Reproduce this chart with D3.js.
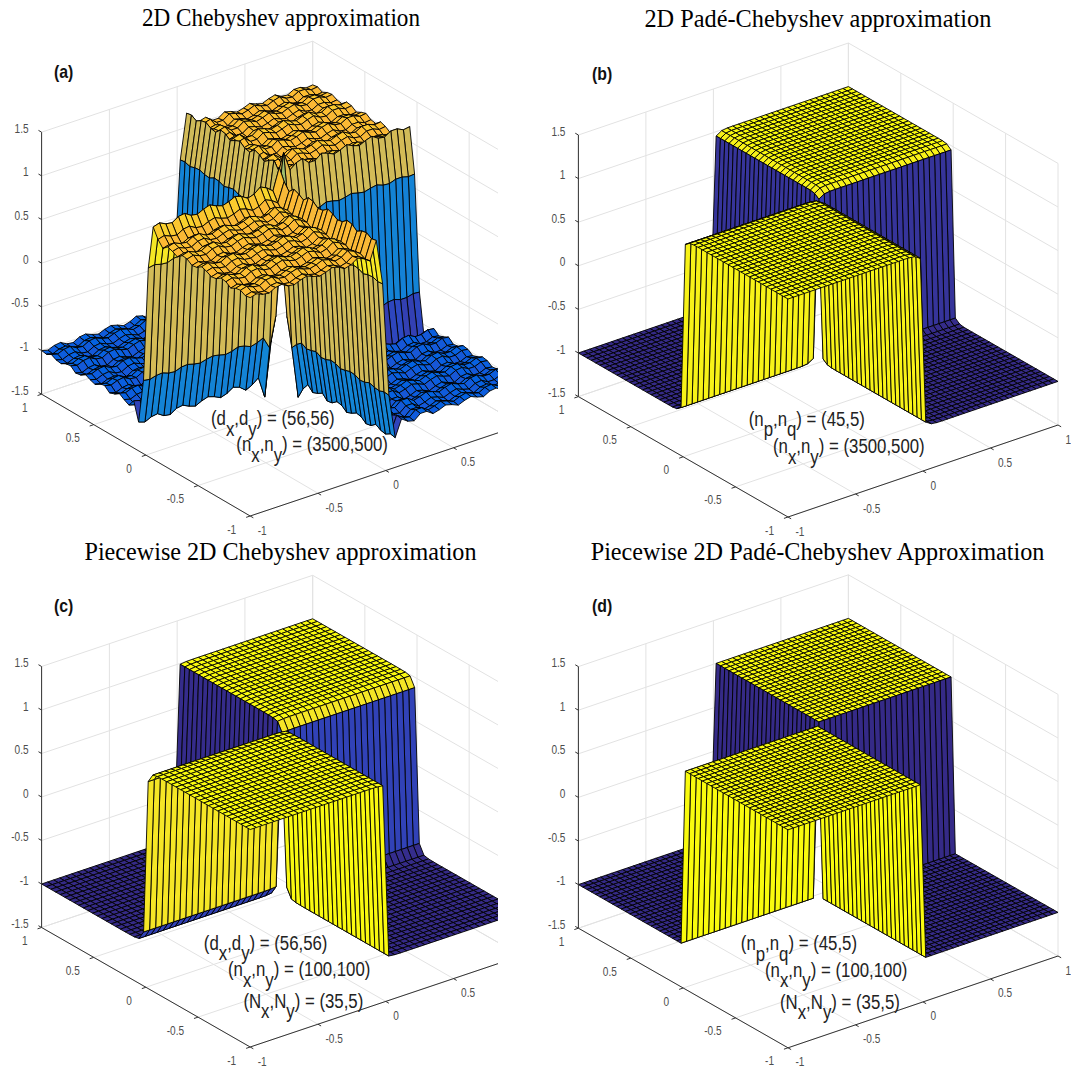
<!DOCTYPE html>
<html>
<head>
<meta charset="utf-8">
<script src="https://d3js.org/d3.v7.min.js"></script>
<style>
  html, body { margin: 0; padding: 0; background: #fff; overflow: hidden; }
  svg { display: block; }
</style>
</head>
<body>
<svg id="chart" width="1071" height="1070"></svg>
<script>
// Ticks shared by every panel
const xyTicks = [-1, -0.5, 0, 0.5, 1];
const zTicks = [-1.5, -1, -0.5, 0, 0.5, 1, 1.5];

const titles = [
  "2D Chebyshev approximation",
  "2D Padé-Chebyshev approximation",
  "Piecewise 2D Chebyshev approximation",
  "Piecewise 2D Padé-Chebyshev Approximation"
];
const letters = ["(a)", "(b)", "(c)", "(d)"];

// annotation runs: [text, isSubscript]
const notesA = [
  [["(d", 0], ["x", 1], [",d", 0], ["y", 1], [") = (56,56)", 0]],
  [["(n", 0], ["x", 1], [",n", 0], ["y", 1], [") = (3500,500)", 0]]
];
const notesB = [
  [["(n", 0], ["p", 1], [",n", 0], ["q", 1], [") = (45,5)", 0]],
  [["(n", 0], ["x", 1], [",n", 0], ["y", 1], [") = (3500,500)", 0]]
];
const notesC = [
  [["(d", 0], ["x", 1], [",d", 0], ["y", 1], [") = (56,56)", 0]],
  [["(n", 0], ["x", 1], [",n", 0], ["y", 1], [") = (100,100)", 0]],
  [["(N", 0], ["x", 1], [",N", 0], ["y", 1], [") = (35,5)", 0]]
];
const notesD = [
  [["(n", 0], ["p", 1], [",n", 0], ["q", 1], [") = (45,5)", 0]],
  [["(n", 0], ["x", 1], [",n", 0], ["y", 1], [") = (100,100)", 0]],
  [["(N", 0], ["x", 1], [",N", 0], ["y", 1], [") = (35,5)", 0]]
];

// Cross sections of the surfaces.
// The surface height at a grid node is profileX[i] * profileY[j].
const chebX = [
  -1.00, -1.02, -0.99, -0.98, -1.02, -1.03, -0.99, -0.98, -1.01, -1.03, -1.00,
  -0.98, -1.00, -1.03, -1.01, -0.97, -0.99, -1.04, -1.01, -0.96, -1.17, -0.65,
  0.65, 1.16, 0.97, 1.02, 1.04, 0.98, 0.98, 1.03, 1.01, 0.98, 1.00,
  1.03, 1.00, 0.98, 1.01, 1.03, 0.99, 0.98, 1.02, 1.02, 0.99, 1.00
];
const chebY = [
  -1.00, -0.99, -1.02, -1.01, -0.98, -1.02, -1.03, -0.99, -0.98, -1.01, -1.03,
  -0.99, -0.98, -1.02, -1.03, -0.98, -1.01, -1.03, -0.98, -1.05, -1.16, -0.66,
  0.66, 1.17, 0.96, 1.04, 1.01, 0.97, 1.01, 1.03, 0.98, 0.99, 1.03,
  1.01, 0.98, 1.02, 1.03, 0.98, 0.99, 1.02, 1.01, 0.98, 1.01, 1.00
];
const padeXY = [
  -1, -1, -1, -1, -1, -1, -1, -1, -1, -1, -1, -1, -1, -1, -1, -1, -1, -1, -1, -1,
  -1, -1, -0.999, -0.99, -0.95,
  0.95, 0.99, 0.999, 1, 1, 1, 1, 1, 1, 1, 1, 1, 1, 1, 1, 1, 1, 1, 1, 1, 1, 1, 1, 1, 1
];
const pieceX = [
  -1, -1, -1, -1, -1, -1, -1, -1, -1, -1, -1, -1, -1, -1, -1, -1, -1, -1, -1, -1,
  -1, -0.998, -0.99,
  0.99, 0.998, 1, 1, 1, 1, 1, 1, 1, 1, 1, 1, 1, 1, 1, 1, 1, 1, 1, 1, 1, 1, 1
];
const pieceY = [
  -1, -1, -1, -1, -1, -1, -1, -1, -1, -1, -1, -1, -1, -1, -1, -1, -1, -1, -1,
  -0.999, -0.997, -0.985, -0.88,
  0.88, 0.985, 0.997, 0.999, 1, 1, 1, 1, 1, 1, 1, 1, 1, 1, 1, 1, 1, 1, 1, 1, 1, 1, 1
];
const sharpXY = [
  -1, -1, -1, -1, -1, -1, -1, -1, -1, -1, -1, -1, -1, -1, -1, -1, -1, -1, -1, -1,
  -1, -1, -1, -1, -1,
  1, 1, 1, 1, 1, 1, 1, 1, 1, 1, 1, 1, 1, 1, 1, 1, 1, 1, 1, 1, 1, 1, 1, 1, 1
];

const parulaStops = [0, 0.032, 0.048, 0.079, 0.111, 0.127, 0.25, 0.375, 0.5, 0.625, 0.75, 0.875, 0.94, 1];
const parulaColors = ["#352a87", "#36379f", "#353dad", "#2b4ac7", "#0f5cdd", "#0363e1", "#1481d6", "#06a4ca", "#2eb7a4", "#87bf77", "#d1bb59", "#fdb934", "#f5e626", "#f9fb0e"];

// Where each axes box lands on the page
const panels = [
  { title: 0, titleX: 142, titleY: 25.6, titleW: 278, letterX: 54, letterY: 78,
    left: [41.6, 394.2], front: [250.2, 516], right: [521.3, 425], zh: 262, clipX: 498,
    px: chebX, py: chebY, clim: [-1.33, 1.31], notes: notesA, noteX: [211, 236.3], noteY: [425, 451] },
  { title: 1, titleX: 644.4, titleY: 27.4, titleW: 347, letterX: 592, letterY: 79.6,
    left: [578.4, 396.6], front: [788, 517], right: [1058, 425], zh: 261.6, clipX: 1071,
    px: padeXY, py: padeXY, clim: [-1, 1], notes: notesB, noteX: [748.7, 773], noteY: [425.6, 453] },
  { title: 2, titleX: 84.5, titleY: 559.6, titleW: 392, letterX: 54, letterY: 612,
    left: [41.6, 927.5], front: [250.2, 1047], right: [521.3, 955.8], zh: 261, clipX: 498,
    px: pieceX, py: pieceY, clim: [-1, 1], notes: notesC, noteX: [203.8, 228, 243.4], noteY: [949.7, 976, 1007.7] },
  { title: 3, titleX: 590.7, titleY: 559.6, titleW: 453.7, letterX: 592, letterY: 612,
    left: [578.4, 928.2], front: [788, 1047.8], right: [1058, 956], zh: 261.6, clipX: 1071,
    px: sharpXY, py: sharpXY, clim: [-1, 1], notes: notesD, noteX: [740.8, 765, 780], noteY: [950.4, 976.6, 1008.5] }
];

const svg = d3.select("#chart");
const unit = d3.scaleLinear().domain([-1, 1]).range([0, 1]);
const zUnit = d3.scaleLinear().domain([-1.5, 1.5]).range([0, 1]);
const parula = d3.scaleLinear().domain(parulaStops).range(parulaColors).clamp(true);
const closedLine = d3.line().curve(d3.curveLinearClosed);
const tickFmt = d => String(d);

function drawPanel(p, idx) {
  const g = svg.append("g");

  const clipId = "clip" + idx;
  svg.append("clipPath").attr("id", clipId)
    .append("rect").attr("x", p.left[0] - 30).attr("y", p.left[1] - 400)
    .attr("width", p.clipX - p.left[0] + 30).attr("height", 700);

  // x runs front -> right, y runs front -> left, z straight up
  const ex = [p.right[0] - p.front[0], p.right[1] - p.front[1]];
  const ey = [p.left[0] - p.front[0], p.left[1] - p.front[1]];
  function project(x, y, z) {
    const u = unit(x), v = unit(y), w = zUnit(z);
    return [p.front[0] + u * ex[0] + v * ey[0], p.front[1] + u * ex[1] + v * ey[1] - w * p.zh];
  }

  const box = g.append("g").attr("clip-path", `url(#${clipId})`);

  // grid lines on the floor and the two back walls
  const gridSegs = [];
  xyTicks.forEach(t => {
    gridSegs.push([project(t, -1, -1.5), project(t, 1, -1.5)]);
    gridSegs.push([project(-1, t, -1.5), project(1, t, -1.5)]);
    gridSegs.push([project(t, 1, -1.5), project(t, 1, 1.5)]);
    gridSegs.push([project(1, t, -1.5), project(1, t, 1.5)]);
  });
  zTicks.forEach(t => {
    gridSegs.push([project(-1, 1, t), project(1, 1, t)]);
    gridSegs.push([project(1, 1, t), project(1, -1, t)]);
  });
  box.append("g").selectAll("path").data(gridSegs).join("path")
    .attr("d", d => d3.line()(d))
    .attr("fill", "none").attr("stroke", "#e2e2e2").attr("stroke-width", 1);

  // surface, painted from the back corner towards the viewer
  const nx = p.px.length, ny = p.py.length;
  const xs = d3.scaleLinear().domain([0, nx - 1]).range([-1, 1]);
  const ys = d3.scaleLinear().domain([0, ny - 1]).range([-1, 1]);
  const height = (i, j) => p.px[i] * p.py[j];
  const color = d3.scaleLinear().domain(p.clim).range([0, 1]);
  const faces = [];
  for (let i = nx - 2; i >= 0; i--) {
    for (let j = ny - 2; j >= 0; j--) {
      // the cell straddling the origin is left empty in all four plots
      if (i === nx / 2 - 1 && j === ny / 2 - 1) continue;
      faces.push({
        pts: [
          project(xs(i), ys(j), height(i, j)),
          project(xs(i + 1), ys(j), height(i + 1, j)),
          project(xs(i + 1), ys(j + 1), height(i + 1, j + 1)),
          project(xs(i), ys(j + 1), height(i, j + 1))
        ],
        c: height(i, j)
      });
    }
  }
  box.append("g").selectAll("path").data(faces).join("path")
    .attr("d", d => closedLine(d.pts))
    .attr("fill", d => parula(color(d.c)))
    .attr("stroke", "#000").attr("stroke-width", 0.9).attr("stroke-linejoin", "round");

  // axis lines and tick marks
  const axisCol = "#333333";
  const tickLen = 0.03;
  const lines = [
    [project(-1, 1, -1.5), project(-1, 1, 1.5)],
    [project(-1, 1, -1.5), project(-1, -1, -1.5)],
    [project(-1, -1, -1.5), project(1, -1, -1.5)]
  ];
  zTicks.forEach(t => lines.push([project(-1, 1, t), project(-1, 1 + tickLen, t)]));
  xyTicks.forEach(t => {
    lines.push([project(-1, t, -1.5), project(-1 - tickLen, t, -1.5)]);
    lines.push([project(t, -1, -1.5), project(t, -1 - tickLen, -1.5)]);
  });
  box.append("g").selectAll("path").data(lines).join("path")
    .attr("d", d => d3.line()(d))
    .attr("fill", "none").attr("stroke", axisCol).attr("stroke-width", 1);

  // tick labels
  const labelStyle = sel => sel
    .attr("font-family", "'Liberation Sans', Arial, sans-serif")
    .attr("font-size", 12).attr("fill", "#4d4d4d");
  zTicks.forEach(t => {
    const q = project(-1, 1, t);
    g.append("text").call(labelStyle).attr("text-anchor", "end")
      .attr("transform", `translate(${q[0] - 13},${q[1] + 0.5}) scale(0.84,1)`).text(tickFmt(t));
  });
  xyTicks.forEach(t => {
    const q = project(-1, t, -1.5);
    g.append("text").call(labelStyle).attr("text-anchor", "end")
      .attr("transform", `translate(${q[0] - 14},${q[1] + 17.5}) scale(0.84,1)`).text(tickFmt(t));
    const r = project(t, -1, -1.5);
    // the last label of the cropped panels falls outside their clip
    if (r[0] < p.clipX) {
      g.append("text").call(labelStyle).attr("text-anchor", "start")
        .attr("transform", `translate(${r[0] + 7.5},${r[1] + 18.5}) scale(0.84,1)`).text(tickFmt(t));
    }
  });

  // title and panel letter
  g.append("text").attr("x", p.titleX).attr("y", p.titleY)
    .attr("font-family", "'Liberation Serif', serif").attr("font-size", 25.5).attr("fill", "#000")
    .attr("textLength", p.titleW).attr("lengthAdjust", "spacingAndGlyphs")
    .text(titles[p.title]);
  g.append("text")
    .attr("transform", `translate(${p.letterX},${p.letterY}) scale(0.88,1)`)
    .attr("font-family", "'Liberation Sans', Arial, sans-serif").attr("font-weight", "bold")
    .attr("font-size", 18).attr("fill", "#111").text(letters[p.title]);

  // annotation lines with their big subscripts
  p.notes.forEach((runs, k) => {
    const t = g.append("text")
      .attr("transform", `translate(${p.noteX[k]},${p.noteY[k]}) scale(0.8,1)`)
      .attr("font-family", "'Liberation Sans', Arial, sans-serif")
      .attr("font-size", 21).attr("fill", "#222");
    let low = 0;
    runs.forEach(r => {
      t.append("tspan").attr("dy", (r[1] - low) * 10.5).text(r[0]);
      low = r[1];
    });
  });
}

panels.forEach(drawPanel);
</script>
</body>
</html>
